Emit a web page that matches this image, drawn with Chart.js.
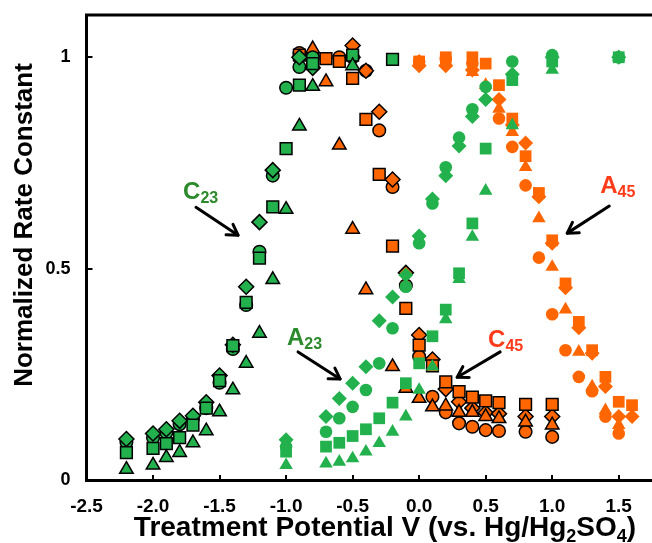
<!DOCTYPE html>
<html><head><meta charset="utf-8">
<script src="https://cdn.jsdelivr.net/npm/chart.js@4/dist/chart.umd.min.js"></script>
<style>html,body{margin:0;padding:0;background:#fff;overflow:hidden}#wrap{width:652px;height:543px}</style>
</head><body><div id="wrap"><canvas id="c" width="652" height="543"></canvas></div>
<script>
// ---- data (x = treatment potential V, y = normalized rate constant) ----
const xTicks = [-2.5,-2.0,-1.5,-1.0,-0.5,0.0,0.5,1.0,1.5];
const yTicks = [0, 0.5, 1];

const c23X        = [-2.2,-2.0,-1.9,-1.8,-1.7,-1.6,-1.5,-1.4,-1.3,-1.2,-1.1,-1.0,-0.9,-0.8,-0.5,-0.2];
const c23Circle   = [0.09,0.10,0.112,0.132,0.145,0.17,0.23,0.31,0.414,0.54,0.72,0.928,0.977,1.0,1.0,null];
const c23Square   = [0.065,0.075,0.086,0.10,0.13,0.17,0.235,0.318,0.42,0.525,0.646,0.784,0.934,0.985,1.005,0.995];
const c23Triangle = [0.025,0.035,0.053,0.065,0.088,0.116,0.161,0.213,0.276,0.347,0.474,0.64,0.837,0.931,0.98,null];
const c23Diamond  = [0.097,0.11,0.12,0.14,0.152,0.184,0.247,0.32,0.457,0.61,0.733,null,1.0,0.975,1.0,null];

const a23X        = [-1.0,-0.7,-0.6,-0.5,-0.4,-0.3,-0.2,-0.1,0.0,0.1,0.2,0.3,0.4,0.5,0.7,1.0,1.5];
const a23Circle   = [0.079,0.114,0.146,0.173,0.213,0.276,0.359,0.457,0.56,0.654,0.74,0.81,0.877,0.93,0.99,1.005,1.0];
const a23Square   = [0.067,0.079,0.088,0.104,0.12,0.146,0.183,0.229,0.276,0.34,0.403,0.489,0.607,0.784,0.946,0.99,1.0];
const a23Triangle = [0.035,0.039,0.043,0.051,0.067,0.087,0.114,0.15,0.213,0.268,0.38,0.475,0.575,0.684,0.839,0.97,1.0];
const a23Diamond  = [0.095,0.15,0.193,0.229,0.268,0.377,0.433,0.485,0.577,0.665,0.72,0.79,0.86,0.9,0.96,1.0,1.0];

const c45X        = [-0.9,-0.8,-0.7,-0.6,-0.5,-0.4,-0.3,-0.2,-0.1,0.0,0.1,0.2,0.3,0.4,0.5,0.6,0.8,1.0];
const c45Circle   = [1.01,1.0,null,1.0,null,0.968,0.827,0.693,0.46,0.292,0.197,0.16,0.134,0.126,0.118,0.116,0.114,0.102];
const c45Square   = [1.005,0.995,0.997,0.99,0.95,0.853,0.723,0.553,0.406,0.319,0.27,0.232,0.209,0.196,0.187,0.183,0.179,0.179];
const c45Triangle = [null,1.02,0.942,0.792,0.593,0.45,null,0.268,0.217,0.193,0.173,0.175,0.16,0.16,0.15,0.145,0.137,0.13];
const c45Diamond  = [null,null,null,null,1.028,0.968,0.871,0.711,0.49,0.343,0.285,0.215,0.185,0.17,0.159,0.157,0.15,0.15];

const a45X        = [0.0,0.2,0.4,0.5,0.6,0.7,0.8,0.9,1.0,1.1,1.2,1.3,1.4,1.5,1.6];
const a45Circle   = [0.99,0.997,0.985,null,0.855,0.788,0.697,0.526,0.392,0.307,0.244,0.21,0.15,0.11,null];
const a45Square   = [0.99,1.0,1.0,0.985,0.934,0.855,0.766,0.679,0.567,0.465,0.374,0.307,0.244,0.185,0.177];
const a45Triangle = [0.99,0.99,0.965,0.934,0.878,0.823,0.74,0.619,0.504,0.403,0.303,0.221,0.165,0.13,null];
const a45Diamond  = [0.98,0.98,0.97,null,0.9,0.84,0.797,0.67,0.56,0.455,0.36,0.3,0.221,0.15,0.15];

// annotation labels (positions in data units)
const labelNames = ['C','A','C','A'];
const labelSubs  = ['23','23','45','45'];
const labelPos   = [[-1.774,0.664],[-0.993,0.319],[0.518,0.314],[1.361,0.678]];
const arrowFrom  = [[-1.677,0.645],[-0.910,0.303],[0.609,0.303],[1.429,0.648]];
const arrowTo    = [[-1.361,0.579],[-0.594,0.239],[0.286,0.243],[1.113,0.584]];

// ---- styles ----
const GREEN = '#22b14c', ORANGE = '#ff6600';
const shapes = {circle:['circle',6.3], square:['rect',8.3], triangle:['triangle',7.8], diamond:['rectRot',7.5]};
const labelColors = ['#2b8a2b','#2b8a2b','#ff3b1a','#ff3b1a'];

function pts(xs, ys){ return xs.map((x,i)=>({x:x,y:ys[i]})).filter(p=>p.y!==null); }
function ds(name, xs, ys, shape, color, edge){
  const s = shapes[shape];
  return {label:name, data:pts(xs,ys), pointStyle:s[0], pointRadius:s[1], pointHoverRadius:s[1],
    backgroundColor:color, borderColor: edge?'#000':color, borderWidth: edge?1.5:0, showLine:false, clip:false};
}
const groups = [
  ['A23', a23X, {triangle:a23Triangle, square:a23Square, diamond:a23Diamond, circle:a23Circle}, GREEN, false],
  ['A45', a45X, {triangle:a45Triangle, square:a45Square, diamond:a45Diamond, circle:a45Circle}, ORANGE, false],
  ['C23', c23X, {triangle:c23Triangle, square:c23Square, diamond:c23Diamond, circle:c23Circle}, GREEN, true],
  ['C45', c45X, {triangle:c45Triangle, square:c45Square, diamond:c45Diamond, circle:c45Circle}, ORANGE, true]
];
const datasets = [];
groups.forEach(g=>{ ['triangle','square','diamond','circle'].forEach(sh=>{ datasets.push(ds(g[0]+' '+sh, g[1], g[2][sh], sh, g[3], g[4])); }); });

const FONT = '"Liberation Sans", Arial, Helvetica, sans-serif';

const decor = {
  id:'decor',
  afterDraw(chart){
    const ctx = chart.ctx, xs = chart.scales.x, ys = chart.scales.y, ca = chart.chartArea;
    ctx.save();
    ctx.strokeStyle = '#000';
    ctx.lineWidth = 3;
    ctx.beginPath(); ctx.moveTo(ca.left-1.5, ca.top); ctx.lineTo(ca.right, ca.top); ctx.stroke();
    ctx.lineWidth = 2;
    xTicks.forEach(v=>{ const p = Math.round(xs.getPixelForValue(v)); ctx.beginPath(); ctx.moveTo(p, ca.bottom); ctx.lineTo(p, ca.bottom-5); ctx.stroke(); });
    yTicks.forEach(v=>{ const p = Math.round(ys.getPixelForValue(v)); ctx.beginPath(); ctx.moveTo(ca.left, p); ctx.lineTo(ca.left+6, p); ctx.stroke(); });
    // axis titles
    ctx.fillStyle = '#000';
    ctx.textBaseline = 'alphabetic';
    const parts = [['Treatment Potential V (vs. Hg/Hg',28,0],['2',18,6],['SO',28,0],['4',18,6],[')',28,0]];
    let total = 0;
    parts.forEach(p=>{ ctx.font = 'bold '+p[1]+'px '+FONT; total += ctx.measureText(p[0]).width; });
    let x = 385 - total/2;
    parts.forEach(p=>{ ctx.font = 'bold '+p[1]+'px '+FONT; ctx.fillText(p[0], x, 536+p[2]); x += ctx.measureText(p[0]).width; });
    ctx.save();
    ctx.translate(32, 225); ctx.rotate(-Math.PI/2);
    ctx.font = 'bold 26px '+FONT; ctx.textAlign = 'center';
    ctx.fillText('Normalized Rate Constant', 0, 0);
    ctx.restore();
    // annotations
    for (let i=0;i<labelNames.length;i++){
      const tx = xs.getPixelForValue(labelPos[i][0]), ty = ys.getPixelForValue(labelPos[i][1]);
      ctx.fillStyle = labelColors[i];
      ctx.font = 'bold 24px '+FONT; ctx.textAlign = 'left';
      ctx.fillText(labelNames[i], tx, ty);
      const w = ctx.measureText(labelNames[i]).width;
      ctx.font = 'bold 16px '+FONT;
      ctx.fillText(labelSubs[i], tx + w, ty + 4);
      const x1 = xs.getPixelForValue(arrowFrom[i][0]), y1 = ys.getPixelForValue(arrowFrom[i][1]);
      const x2 = xs.getPixelForValue(arrowTo[i][0]), y2 = ys.getPixelForValue(arrowTo[i][1]);
      ctx.strokeStyle = '#000'; ctx.lineWidth = 3; ctx.lineCap = 'round'; ctx.lineJoin='round';
      ctx.beginPath(); ctx.moveTo(x1,y1); ctx.lineTo(x2,y2); ctx.stroke();
      const a = Math.atan2(y2-y1, x2-x1), L = 12, s = 0.55;
      ctx.beginPath();
      ctx.moveTo(x2 - L*Math.cos(a - s), y2 - L*Math.sin(a - s));
      ctx.lineTo(x2, y2);
      ctx.lineTo(x2 - L*Math.cos(a + s), y2 - L*Math.sin(a + s));
      ctx.stroke();
    }
    ctx.restore();
  }
};

new Chart(document.getElementById('c'), {
  type:'scatter',
  data:{datasets:datasets},
  options:{
    responsive:false, animation:false, devicePixelRatio:1,
    layout:{autoPadding:false, padding:{top:15,left:0,right:0,bottom:0}},
    plugins:{legend:{display:false}, tooltip:{enabled:false}},
    scales:{
      x:{type:'linear', min:-2.5, max:1.75,
        afterBuildTicks(s){ s.ticks = xTicks.map(v=>({value:v})); },
        afterFit(s){ s.height = 63; s.paddingLeft = 0; s.paddingRight = 0; },
        grid:{display:true, drawOnChartArea:false, drawTicks:false},
        border:{display:true, color:'#000', width:3},
        ticks:{padding:15, color:'#000', font:{family:FONT, size:19, weight:'bold'}, maxRotation:0, autoSkip:false,
          callback:v=>Number(v).toFixed(1)}
      },
      y:{type:'linear', min:0, max:1.1,
        afterBuildTicks(s){ s.ticks = yTicks.map(v=>({value:v})); },
        afterFit(s){ s.width = 86.5; s.paddingTop = 0; s.paddingBottom = 0; },
        grid:{display:true, drawOnChartArea:false, drawTicks:false},
        border:{display:true, color:'#000', width:3},
        ticks:{padding:16, color:'#000', font:{family:FONT, size:18, weight:'bold'},
          callback:v=>String(v)}
      }
    }
  },
  plugins:[decor]
});
</script></body></html>
